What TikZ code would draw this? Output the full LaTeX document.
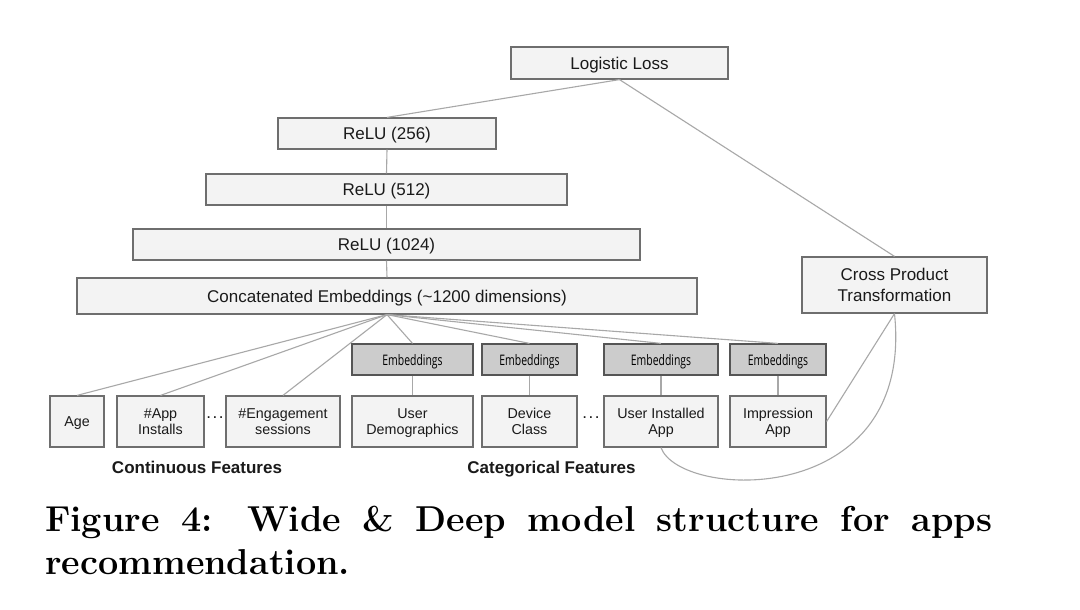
\documentclass[tikz,border=0pt]{standalone}
\usepackage{fontspec}
\newfontfamily\arialfont{Liberation Sans}
\newfontfamily\embfont{Open Sans}
\usepackage{graphicx}
\definecolor{boxfill}{HTML}{F3F3F3}
\definecolor{boxdraw}{HTML}{6E6E6E}
\definecolor{embfill}{HTML}{CCCCCC}
\definecolor{embdraw}{HTML}{555555}
\definecolor{linkc}{HTML}{A8A8A8}
\definecolor{txt}{HTML}{1A1A1A}
\newcommand{\dn}[2][1.5pt]{\raisebox{-#1}[\height][\depth]{\begin{tabular}{@{}c@{}}#2\end{tabular}}}
\begin{document}
\begin{tikzpicture}[x=1pt,y=-1pt,
  box/.style={draw=boxdraw,fill=boxfill,line width=1.2pt,inner sep=0pt,text=txt,
    font=\arialfont\fontsize{17}{20.5}\selectfont,align=center},
  small/.style={box,font=\arialfont\fontsize{14.3}{16.5}\selectfont,minimum height=51pt},
  emb/.style={draw=embdraw,fill=embfill,line width=1.2pt,inner sep=0pt,minimum height=31pt,text=black,
    font=\embfont\fontsize{14.5}{16}\selectfont},
  link/.style={draw=linkc,line width=1.1pt},
  lbl/.style={font=\arialfont\bfseries\fontsize{17}{20}\selectfont,text=txt,inner sep=0pt,anchor=base}]
\useasboundingbox (0,0) rectangle (1080,610);
\fill[white] (0,0) rectangle (1080,610);

% deep part
\node[box,minimum width=217pt,minimum height=32pt] (loss) at (619.5,63) {\dn[2pt]{Logistic Loss}};
\node[box,minimum width=218pt,minimum height=31pt] (r256) at (387,133.5) {\dn[2pt]{ReLU (256)}};
\node[box,minimum width=361pt,minimum height=31pt] (r512) at (386.5,189.5) {\dn[2pt]{ReLU (512)}};
\node[box,minimum width=507pt,minimum height=31pt] (r1024) at (386.5,244.5) {\dn[2pt]{ReLU (1024)}};
\node[box,minimum width=620pt,minimum height=36pt] (concat) at (387,296) {\dn[2pt]{Concatenated Embeddings (\textasciitilde1200 dimensions)}};
\node[box,minimum width=185pt,minimum height=56pt] (cross) at (894.5,285) {\dn[2pt]{Cross Product\\Transformation}};

% embeddings
\node[emb,minimum width=121pt] (e1) at (412.5,359.5) {\dn[3pt]{\scalebox{0.72}[1]{Embeddings}}};
\node[emb,minimum width=95pt] (e2) at (529.5,359.5) {\dn[3pt]{\scalebox{0.72}[1]{Embeddings}}};
\node[emb,minimum width=114pt] (e3) at (661,359.5) {\dn[3pt]{\scalebox{0.72}[1]{Embeddings}}};
\node[emb,minimum width=96pt] (e4) at (778,359.5) {\dn[3pt]{\scalebox{0.72}[1]{Embeddings}}};

% features
\node[small,minimum width=54pt] (age) at (77,421.5) {\dn{Age}};
\node[small,minimum width=87pt] (inst) at (160.5,421.5) {\dn{\#App\\Installs}};
\node[small,minimum width=114pt] (eng) at (283,421.5) {\dn{\#Engagement\\sessions}};
\node[small,minimum width=121pt] (user) at (412.5,421.5) {\dn{User\\Demographics}};
\node[small,minimum width=95pt] (dev) at (529.5,421.5) {\dn{Device\\Class}};
\node[small,minimum width=114pt] (uia) at (661,421.5) {\dn{User Installed\\App}};
\node[small,minimum width=96pt] (imp) at (778,421.5) {\dn{Impression\\App}};

\node[font=\arialfont\fontsize{17}{17}\selectfont,text=txt,inner sep=0pt] (dots1) at (215,418) {.\kern1.5pt.\kern1.5pt.};
\node[font=\arialfont\fontsize{17}{17}\selectfont,text=txt,inner sep=0pt] (dots2) at (591,418) {.\kern1.5pt.\kern1.5pt.};

\node[lbl] (cont) at (197,473) {Continuous Features};
\node[lbl] (cat) at (551.5,473) {Categorical Features};

% connectors
\coordinate (apex) at (concat.south);
\path[link] (loss.south) -- (r256.north);
\path[link] (loss.south) -- (cross.north);
\path[link] (r256.south) -- (r512.north);
\path[link] (r512.south) -- (r1024.north);
\path[link] (r1024.south) -- (concat.north);
\path[link] (apex) -- (age.north);
\path[link] (apex) -- (inst.north);
\path[link] (apex) -- (eng.north);
\path[link] (apex) -- (e1.north);
\path[link] (apex) -- (e2.north);
\path[link] (apex) -- (e3.north);
\path[link] (apex) -- (e4.north);
\path[link] (e1.south) -- (user.north);
\path[link] (e2.south) -- (dev.north);
\path[link] (e3.south) -- (uia.north);
\path[link] (e4.south) -- (imp.north);
\path[link] (cross.south) -- (imp.east);
\path[link] (uia.south) .. controls (680,500) and (915,510) .. (cross.south);

% caption
\node[anchor=north west,inner sep=0pt,text width=947pt,align=justify,
  font=\bfseries\fontsize{36}{43}\selectfont] (cap) at (45,505.5)
  {Figure 4: Wide \& Deep model structure for apps\linebreak recommendation.};
\end{tikzpicture}
\end{document}
